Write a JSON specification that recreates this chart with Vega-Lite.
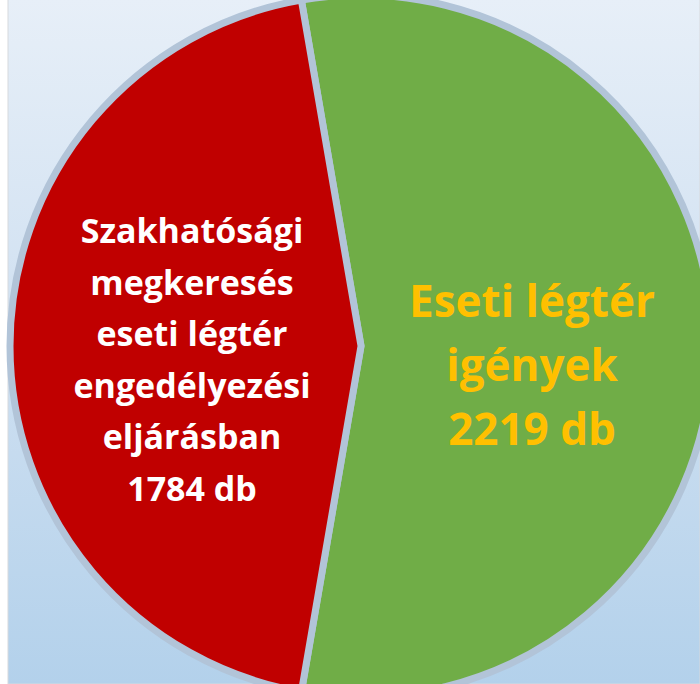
{
  "$schema": "https://vega.github.io/schema/vega-lite/v6.json",
  "width": 692,
  "height": 684,
  "autosize": {"type": "none"},
  "padding": {"left": 8, "top": 0, "right": 0, "bottom": 0},
  "background": "#ffffff",
  "config": {"view": {"stroke": null}},
  "data": {
    "values": [
      {"category": "Eseti légtér igények", "value": 2219, "label": "Eseti légtér\nigények\n2219 db"},
      {"category": "Szakhatósági megkeresés", "value": 1784, "label": "Szakhatósági\nmegkeresés\neseti légtér\nengedélyezési\neljárásban\n1784 db"}
    ]
  },
  "layer": [
    {
      "data": {"values": [{"bg": 1}]},
      "mark": {
        "type": "rect",
        "stroke": "#d6d9dd",
        "strokeWidth": 1,
        "fill": {
          "gradient": "linear",
          "x1": 0, "y1": 0, "x2": 0, "y2": 1,
          "stops": [
            {"offset": 0, "color": "#e7eff8"},
            {"offset": 0.5, "color": "#cfe0f1"},
            {"offset": 1, "color": "#b3d1eb"}
          ]
        }
      },
      "encoding": {
        "x": {"value": 0},
        "x2": {"value": "width"},
        "y": {"value": -1},
        "y2": {"value": "height"}
      }
    },
    {
      "mark": {
        "type": "arc",
        "outerRadius": 351,
        "xOffset": 7,
        "yOffset": 4,
        "stroke": "#b2c4d8",
        "strokeWidth": 7,
        "strokeJoin": "miter"
      },
      "encoding": {
        "theta": {
          "field": "value",
          "type": "quantitative",
          "stack": true,
          "scale": {"type": "linear", "nice": false, "range": [-0.1707, 6.1125]}
        },
        "color": {
          "field": "category",
          "type": "nominal",
          "scale": {"domain": ["Eseti légtér igények", "Szakhatósági megkeresés"], "range": ["#70ad47", "#c00000"]},
          "legend": null
        }
      }
    },
    {
      "mark": {
        "type": "text",
        "radius": 170,
        "xOffset": 8,
        "yOffset": 4,
        "dy": -29,
        "font": "Open Sans",
        "fontWeight": "bold",
        "fontSize": 44,
        "lineHeight": 64,
        "lineBreak": "\n",
        "align": "center",
        "baseline": "alphabetic",
        "color": "#ffc000"
      },
      "encoding": {
        "theta": {"field": "value", "type": "quantitative", "stack": true},
        "order": {"field": "category"},
        "text": {
          "condition": {"test": "datum.category === 'Eseti légtér igények'", "field": "label"},
          "value": ""
        }
      }
    },
    {
      "mark": {
        "type": "text",
        "radius": 170,
        "xOffset": 8,
        "yOffset": 4,
        "dy": -103,
        "font": "Open Sans",
        "fontWeight": "bold",
        "fontSize": 34,
        "lineHeight": 51.6,
        "lineBreak": "\n",
        "align": "center",
        "baseline": "alphabetic",
        "color": "#ffffff"
      },
      "encoding": {
        "theta": {"field": "value", "type": "quantitative", "stack": true},
        "order": {"field": "category"},
        "text": {
          "condition": {"test": "datum.category === 'Szakhatósági megkeresés'", "field": "label"},
          "value": ""
        }
      }
    }
  ]
}
